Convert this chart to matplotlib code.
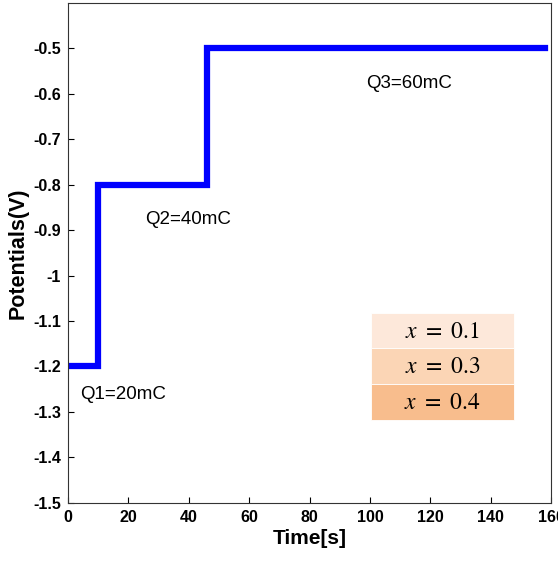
import matplotlib
matplotlib.use("Agg")
import matplotlib.pyplot as plt
from matplotlib.patches import FancyBboxPatch

# step data
time = [0, 10, 10, 46, 46, 158]
potential = [-1.2, -1.2, -0.8, -0.8, -0.5, -0.5]

notes = ["Q1=20mC", "Q2=40mC", "Q3=60mC"]
note_x = [4, 25.5, 98.7]
note_y = [-1.262, -0.877, -0.577]

legend_labels = [r"$x\ =\ 0.1$", r"$x\ =\ 0.3$", r"$x\ =\ 0.4$"]
legend_colors = ["#fde8da", "#fbd5b5", "#f8bd8d"]
legend_edges = [-1.083, -1.160, -1.239, -1.318]

plt.rcParams["mathtext.fontset"] = "stix"
sans = ["Liberation Sans Narrow", "Liberation Sans"]

fig = plt.figure(figsize=(5.58, 5.63), dpi=100)
ax = fig.add_axes([0.122, 0.107, 0.866, 0.888])

ax.plot(time, potential, color="#0000ff", linewidth=4.5, solid_joinstyle="miter")

for t, x, y in zip(notes, note_x, note_y):
    ax.text(x, y, t, fontsize=13.5, family="Liberation Sans", va="center", ha="left")

for i, lab in enumerate(legend_labels):
    top, bot = legend_edges[i], legend_edges[i + 1]
    ax.add_patch(FancyBboxPatch((100.4, bot), 47.3, top - bot, boxstyle="square,pad=0",
                                facecolor=legend_colors[i], edgecolor="white", linewidth=0.6))
    ax.text(124, (top + bot) / 2, lab, fontsize=17, ha="center", va="center")

ax.set_xlim(0, 160)
ax.set_ylim(-1.5, -0.4)
ax.set_xticks(range(0, 161, 20))
ax.set_yticks([-1.5, -1.4, -1.3, -1.2, -1.1, -1, -0.9, -0.8, -0.7, -0.6, -0.5])
ax.set_yticklabels(["-1.5", "-1.4", "-1.3", "-1.2", "-1.1", "-1", "-0.9", "-0.8", "-0.7", "-0.6", "-0.5"])
ax.tick_params(direction="in", length=4, width=0.8, pad=5)
for lab in ax.get_xticklabels() + ax.get_yticklabels():
    lab.set_family(sans)
    lab.set_weight("bold")
    lab.set_fontsize(11.5)
for s in ax.spines.values():
    s.set_linewidth(0.8)
    s.set_color("#333333")

ax.set_xlabel("Time[s]", family=sans, weight="bold", fontsize=15, labelpad=3)
ax.set_ylabel("Potentials(V)", family=sans, weight="bold", fontsize=15.5, labelpad=3)

fig.savefig("out.png", dpi=100)
